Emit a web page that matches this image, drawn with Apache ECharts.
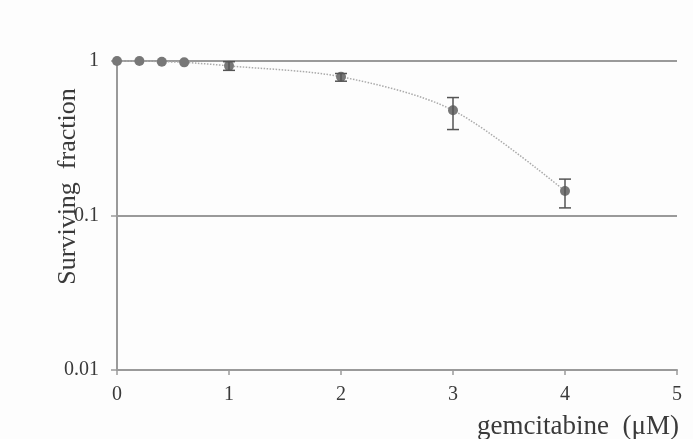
<!DOCTYPE html>
<html>
<head>
<meta charset="utf-8">
<script src="https://cdn.jsdelivr.net/npm/echarts@6/dist/echarts.min.js"></script>
<style>html,body{margin:0;padding:0;background:#fff}#c{width:693px;height:439px}</style>
</head>
<body>
<div id="c"></div>
<script>
var dose = [0, 0.2, 0.4, 0.6, 1, 2, 3, 4];
var surviving = [1, 1, 0.99, 0.98, 0.93, 0.79, 0.48, 0.144];
var errLow = [1, 1, 0.99, 0.98, 0.87, 0.74, 0.36, 0.112];
var errHigh = [1, 1, 0.99, 0.98, 0.99, 0.83, 0.58, 0.172];
var xTicks = [0, 1, 2, 3, 4, 5];
var yTicks = [0.01, 0.1, 1];

var pts = dose.map(function (d, i) { return [d, surviving[i]]; });
var errs = dose.map(function (d, i) { return [d, errLow[i], errHigh[i]]; });

var chart = echarts.init(document.getElementById('c'));
var serif = '"Liberation Serif", "DejaVu Serif", serif';
chart.setOption({
  backgroundColor: '#fdfdfd',
  animation: false,
  grid: { left: 117, right: 16, top: 61, bottom: 69, outerBoundsMode: 'none', containLabel: false },
  xAxis: {
    type: 'value', min: xTicks[0], max: xTicks[xTicks.length - 1], interval: 1,
    name: 'gemcitabine  (\u03bcM)', nameLocation: 'end', nameGap: 2, nameMoveOverlap: false,
    nameTextStyle: { fontFamily: serif, fontSize: 27, color: '#3a3a3a', align: 'right', verticalAlign: 'top', padding: [43, 0, 0, 0] },
    axisLine: { show: true, lineStyle: { color: '#9a9a9a', width: 2 } },
    axisTick: { show: true, length: 5, inside: false, lineStyle: { color: '#9a9a9a', width: 1.5 } },
    axisLabel: { fontFamily: serif, fontSize: 20, color: '#3a3a3a', margin: 15 },
    splitLine: { show: false }
  },
  yAxis: {
    type: 'log', logBase: 10, min: yTicks[0], max: yTicks[yTicks.length - 1],
    name: 'Surviving  fraction', nameLocation: 'middle', nameGap: 36, nameMoveOverlap: false,
    nameTextStyle: { fontFamily: serif, fontSize: 26, color: '#3a3a3a', padding: [0, 0, 0, 58] },
    axisLine: { show: true, lineStyle: { color: '#9a9a9a', width: 2 } },
    axisTick: { show: true, length: 6, lineStyle: { color: '#9a9a9a', width: 1.5 } },
    axisLabel: { fontFamily: serif, fontSize: 20, color: '#3a3a3a', margin: 18,
      formatter: function (v) { return String(+v.toPrecision(3)); } },
    splitLine: { show: true, lineStyle: { color: '#9a9a9a', width: 2 } }
  },
  series: [
    {
      type: 'line', data: pts, smooth: 0.3, z: 3,
      symbol: 'circle', symbolSize: 10,
      itemStyle: { color: '#777' },
      lineStyle: { color: '#aaa', width: 1.5, type: 'dotted' }
    },
    {
      type: 'custom', data: errs, z: 4,
      renderItem: function (params, api) {
        var x = api.value(0);
        var lo = api.coord([x, api.value(1)]);
        var hi = api.coord([x, api.value(2)]);
        if (Math.abs(lo[1] - hi[1]) < 1) return null;
        var w = 6;
        var st = { stroke: '#555', lineWidth: 1.5 };
        return { type: 'group', children: [
          { type: 'line', shape: { x1: lo[0], y1: lo[1], x2: hi[0], y2: hi[1] }, style: st },
          { type: 'line', shape: { x1: lo[0] - w, y1: lo[1], x2: lo[0] + w, y2: lo[1] }, style: st },
          { type: 'line', shape: { x1: hi[0] - w, y1: hi[1], x2: hi[0] + w, y2: hi[1] }, style: st }
        ] };
      }
    }
  ]
});
</script>
</body>
</html>
